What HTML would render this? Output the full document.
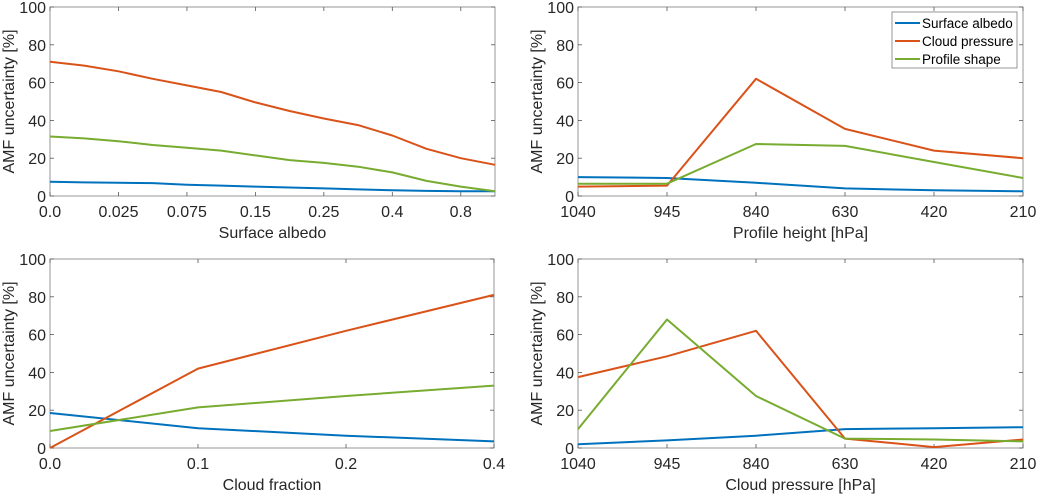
<!DOCTYPE html>
<html><head><meta charset="utf-8"><style>
body{margin:0;background:#fff;width:1037px;height:495px;overflow:hidden}
svg{font-family:"Liberation Sans",Arial,sans-serif}
</style></head><body>
<svg id="fig" width="1037" height="495"></svg>
<script>
const yTicks=[0,20,40,60,80,100];
const p1Cats=["0.0","","0.025","","0.075","","0.15","","0.25","","0.4","","0.8",""];
const p1Blue=[7.5,7.2,7,6.8,6,5.5,5,4.5,4,3.5,3,2.7,2.5,2.5];
const p1Red=[71,69,66,62,58.5,55,49.5,45,41,37.5,32,25,20,16.5];
const p1Green=[31.5,30.5,29,27,25.5,24,21.5,19,17.5,15.5,12.5,8,5,2.5];
const p2Cats=["1040","945","840","630","420","210"];
const p2Blue=[10,9.5,7,4,3,2.5];
const p2Red=[5,5.5,62,35.5,24,20];
const p2Green=[6.5,6.5,27.5,26.5,18,9.5];
const p3Cats=["0.0","0.1","0.2","0.4"];
const p3Blue=[18.5,10.5,6.5,3.5];
const p3Red=[0,42,62,81];
const p3Green=[9,21.5,27.5,33];
const p4Cats=["1040","945","840","630","420","210"];
const p4Blue=[2,4,6.5,10,10.5,11];
const p4Red=[37.5,48.5,62,5,0.5,4.5];
const p4Green=[10,68,27.5,5,4.5,3.5];
const legendLabels=["Surface albedo","Cloud pressure","Profile shape"];
const colors=["#0072BD","#D95319","#77AC30"];
const NS="http://www.w3.org/2000/svg";
const svg=document.getElementById('fig');
function mk(t,a,parent){const e=document.createElementNS(NS,t);for(const k in a)e.setAttribute(k,a[k]);(parent||svg).appendChild(e);return e;}
function panel(name,x0,x1,y0,y1,cats,series,xtitle,ytx){
  const g=mk('g',{});
  
  
  const n=cats.length;
  const xs=i=>x0+(x1-x0)*i/(n-1);
  const ys=v=>y1-(y1-y0)*v/100;
  const box=mk('rect',{x:x0,y:y0,width:x1-x0,height:y1-y0,fill:'none',stroke:'#262626','stroke-width':0.8,'stroke-opacity':0.6},g);
  
  
  yTicks.forEach(t=>{
    const y=ys(t);
    mk('line',{x1:x0,x2:x0+4,y1:y,y2:y,stroke:'#555','stroke-width':0.8},g);
    mk('line',{x1:x1,x2:x1-4,y1:y,y2:y,stroke:'#555','stroke-width':0.8},g);
    const tx=mk('text',{x:x0-4,y:y+6,'text-anchor':'end','font-size':16,fill:'#262626'},g);
    tx.textContent=t;
    
    
  });
  cats.forEach((c,i)=>{
    if(c==="")return;
    const x=xs(i);
    mk('line',{x1:x,x2:x,y1:y1,y2:y1-4,stroke:'#555','stroke-width':0.8},g);
    mk('line',{x1:x,x2:x,y1:y0,y2:y0+4,stroke:'#555','stroke-width':0.8},g);
    const tx=mk('text',{x:x,y:y1+21,'text-anchor':'middle','font-size':16,fill:'#262626'},g);
    tx.textContent=c;
    
    
  });
  series.forEach((s,k)=>{
    const pts=s.map((v,i)=>xs(i).toFixed(1)+','+ys(v).toFixed(1)).join(' ');
    const pl=mk('polyline',{points:pts,fill:'none',stroke:colors[k],'stroke-width':2,'stroke-linejoin':'round'},g);
    
    
  });
  const xt=mk('text',{x:(x0+x1)/2,y:y1+42,'text-anchor':'middle','font-size':16,fill:'#262626'},g);
  xt.textContent=xtitle;
  
  
  const yt=mk('text',{x:0,y:0,'text-anchor':'middle','font-size':16,fill:'#262626',transform:`translate(${ytx},${(y0+y1)/2}) rotate(-90)`},g);
  yt.textContent='AMF uncertainty [%]';
  
  
  return g;
}
panel('panel-surface-albedo',50,495,7,196,p1Cats,[p1Blue,p1Red,p1Green],'Surface albedo',14);
panel('panel-profile-height',578,1023,7,196,p2Cats,[p2Blue,p2Red,p2Green],'Profile height [hPa]',542);
panel('panel-cloud-fraction',50,494,259,448,p3Cats,[p3Blue,p3Red,p3Green],'Cloud fraction',14);
panel('panel-cloud-pressure',578,1023,259,448,p4Cats,[p4Blue,p4Red,p4Green],'Cloud pressure [hPa]',542);
const lg=mk('g',{});


mk('rect',{x:892,y:12,width:125,height:56,fill:'#fff',stroke:'#262626','stroke-opacity':0.6,'stroke-width':0.8},lg);
legendLabels.forEach((l,k)=>{
  const y=23+k*18;
  const e=mk('g',{},lg);
  
  
  mk('line',{x1:895,x2:920,y1:y,y2:y,stroke:colors[k],'stroke-width':2},e);
  const t=mk('text',{x:922,y:y+5,'font-size':13.5,fill:'#000'},e);
  t.textContent=l;
});
</script>
</body></html>
